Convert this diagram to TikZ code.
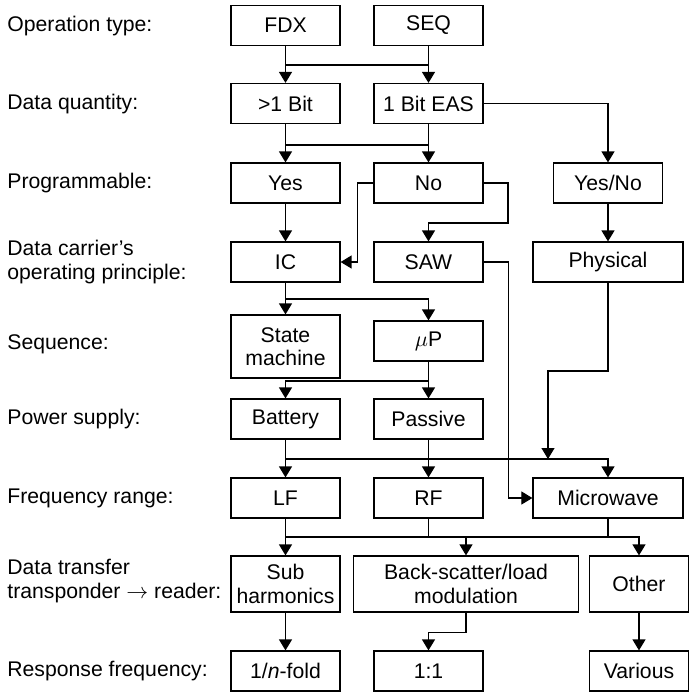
\documentclass[tikz,border=0pt]{standalone}
\usepackage{fontspec}
\setmainfont{Liberation Sans}
\usepackage{tikz}
\usetikzlibrary{arrows.meta,positioning}

\begin{document}
\begin{tikzpicture}[
    x=0.5pt, y=-0.5pt,
    font=\fontsize{10.6}{11.7}\selectfont,
    box/.style={rectangle, draw=black, line width=0.6pt, minimum width=54.5pt, minimum height=20pt, inner sep=1pt, align=center},
    widebox/.style={box, minimum width=75pt},
    rowlabel/.style={anchor=west, align=left, inner sep=0pt},
    arrow/.style={line width=0.6pt, -{Triangle[width=6.5pt,length=5.5pt]}},
    line/.style={line width=0.6pt}
]
\useasboundingbox (0,0) rectangle (689,693);

% Row labels
\node[rowlabel] (lop) at (7,26) {Operation type:};
\node[rowlabel] (lqty) at (7,104) {Data quantity:};
\node[rowlabel] (lprog) at (7,183) {Programmable:};
\node[rowlabel] (lprin) at (7,262) {Data carrier's\\operating principle:};
\node[rowlabel] (lseq) at (7,344) {Sequence:};
\node[rowlabel] (lpow) at (7,419) {Power supply:};
\node[rowlabel] (lfreq) at (7,498) {Frequency range:};
\node[rowlabel] (ltrans) at (7,581) {Data transfer\\transponder $\rightarrow$ reader:};
\node[rowlabel] (lresp) at (7,671) {Response frequency:};

% Operation type
\node[box] (fdx) at (285.5,25.5) {FDX};
\node[box] (seq) at (428.5,25.5) {SEQ};

% Data quantity
\node[box] (bitm) at (285.5,103.5) {>1 Bit};
\node[box] (bit1) at (428.5,103.5) {1 Bit EAS};

% Programmable
\node[box] (yes) at (285.5,183) {Yes};
\node[box] (no) at (428.5,183) {No};
\node[box] (yesno) at (608,183) {Yes/No};

% Operating principle
\node[box] (ic) at (285.5,262) {IC};
\node[box] (saw) at (428.5,262) {SAW};
\node[widebox] (phys) at (608,262) {Physical};

% Sequence
\node[box, minimum height=31.5pt] (sm) at (285.5,346.5) {State\\machine};
\node[box] (up) at (428.5,341) {$\mu$P};

% Power supply
\node[box] (bat) at (285.5,419) {Battery};
\node[box] (pas) at (428.5,419) {Passive};

% Frequency range
\node[box] (lf) at (285.5,498) {LF};
\node[box] (rf) at (428.5,498) {RF};
\node[widebox] (mw) at (608,498) {Microwave};

% Data transfer
\node[box, minimum height=28pt] (sub) at (285.5,584) {Sub\\harmonics};
\node[box, minimum height=28pt, minimum width=112.5pt] (bs) at (466,584) {Back-scatter/load\\modulation};
\node[box, minimum height=28pt, minimum width=49.5pt] (oth) at (639,584) {Other};

% Response frequency
\node[box] (nfold) at (285.5,671) {1/\textit{n}-fold};
\node[box] (one) at (428.5,671) {1:1};
\node[box, minimum width=49.5pt] (var) at (639,671) {Various};

% Junction levels
\coordinate (j1) at (0,65);
\coordinate (j2) at (0,145);
\coordinate (j3) at (508,223);
\coordinate (j4) at (0,299);
\coordinate (pbend) at (548,371);
\coordinate (j5) at (0,381);
\coordinate (j6) at (0,459);
\coordinate (j7) at (0,537);

% Arrows
\draw[arrow] (fdx) -- (bitm);
\draw[arrow] (seq) -- (bit1);
\draw[line] (fdx.south |- j1) -- (seq.south |- j1);

\draw[arrow] (bitm) -- (yes);
\draw[arrow] (bit1) -- (no);
\draw[line] (bitm.south |- j2) -- (bit1.south |- j2);
\draw[arrow] (bit1.east) -| (yesno.north);

\draw[arrow] (yes) -- (ic);
\draw[arrow] (no.west) -- ++(-16,0) |- (ic.east);
\draw[arrow] (no.east) -| (j3) -| (saw.north);
\draw[arrow] (yesno) -- (phys);

\draw[arrow] (ic) -- (sm);
\draw[arrow] (ic.south |- j4) -| (up.north);
\draw[arrow] (saw.east) -- ++(25,0) |- (mw.west);
\draw[arrow] (phys.south) |- (pbend) -- (pbend |- j6);

\draw[arrow] (up) -- (pas);
\draw[arrow] (up.south |- j5) -| (bat.north);

\draw[arrow] (bat) -- (lf);
\draw[arrow] (pas) -- (rf);
\draw[arrow] (bat.south |- j6) -| (mw.north);

\draw[arrow] (lf) -- (sub);
\draw[line] (rf.south) -- (rf.south |- j7);
\draw[line] (mw.south) -- (mw.south |- j7);
\draw[arrow] (lf.south |- j7) -| (oth.north);
\draw[arrow] (bs.north |- j7) -- (bs.north);

\draw[arrow] (sub) -- (nfold);
\draw[arrow] (bs.south) -- ++(0,20) -| (one.north);
\draw[arrow] (oth) -- (var);
\end{tikzpicture}
\end{document}
